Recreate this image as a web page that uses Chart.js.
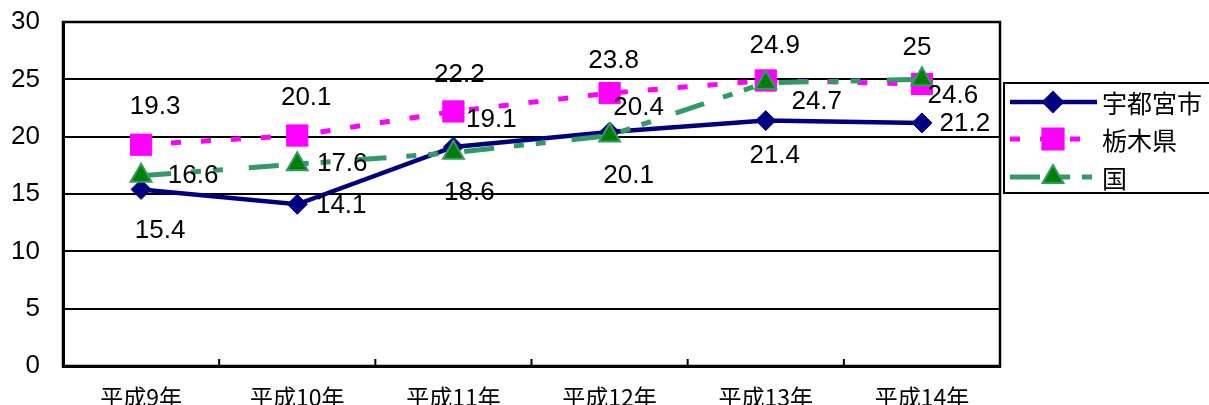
<!DOCTYPE html>
<html>
<head>
<meta charset="utf-8">
<script src="https://cdn.jsdelivr.net/npm/chart.js@4/dist/chart.umd.min.js"></script>
<style>
  html, body { margin: 0; padding: 0; background: #fff; }
  #wrap { width: 1209px; height: 405px; }
</style>
</head>
<body>
<div id="wrap"><canvas id="myChart"></canvas></div>
<script>
  'use strict';

  // data
  var years = ['平成9年', '平成10年', '平成11年', '平成12年', '平成13年', '平成14年'];
  var utsunomiya = [15.4, 14.1, 19.1, 20.4, 21.4, 21.2];
  var tochigi = [19.3, 20.1, 22.2, 23.8, 24.9, 24.6];
  var kuni = [16.6, 17.6, 18.6, 20.1, 24.7, 25];
  var yTicks = [0, 5, 10, 15, 20, 25, 30];

  // where each value label sits relative to its point (px)
  var utsunomiyaLabelPos = [[19, 41], [44, 2], [38, -27], [29, -24], [9, 35], [43, 1]];
  var tochigiLabelPos = [[14, -38], [9, -38], [6, -37], [4, -32], [9, -35], [31, 12]];
  var kuniLabelPos = [[52, 0], [45, 0], [16, 40], [19, 40], [51, 19], [-5, -32]];

  var NUM_FONT = "'Liberation Sans', Arial, 'Noto Sans CJK JP', sans-serif";
  var JP_FONT = "'Noto Sans CJK JP', 'Liberation Sans', sans-serif";

  var greenDash = [30, 20, 10, 12, 10, 26];
  var pinkDash = [10, 20];

  // value labels next to the points
  var valueLabels = {
    id: 'valueLabels',
    afterDatasetsDraw: function (chart) {
      var ctx = chart.ctx;
      ctx.save();
      ctx.font = '26px ' + NUM_FONT;
      ctx.fillStyle = '#000';
      ctx.textAlign = 'center';
      ctx.textBaseline = 'middle';
      chart.data.datasets.forEach(function (ds, di) {
        var meta = chart.getDatasetMeta(di);
        meta.data.forEach(function (pt, i) {
          var off = ds.labelPos[i];
          ctx.fillText(String(ds.data[i]), pt.x + off[0], pt.y + off[1]);
        });
      });
      ctx.restore();
    }
  };

  // frame round the plot and small inward ticks between categories
  var frame = {
    id: 'frame',
    afterDraw: function (chart) {
      var ctx = chart.ctx;
      var a = chart.chartArea;
      var x = chart.scales.x;
      ctx.save();
      ctx.strokeStyle = '#000';
      ctx.lineWidth = 2.5;
      ctx.strokeRect(a.left, a.top, a.right - a.left, a.bottom - a.top);
      ctx.lineWidth = 2;
      for (var i = 0; i < years.length - 1; i++) {
        var px = (x.getPixelForValue(i) + x.getPixelForValue(i + 1)) / 2;
        ctx.beginPath();
        ctx.moveTo(px, a.bottom);
        ctx.lineTo(px, a.bottom - 7);
        ctx.stroke();
      }
      ctx.restore();
    }
  };

  // legend box on the right
  var boxLegend = {
    id: 'boxLegend',
    afterDraw: function (chart) {
      var ctx = chart.ctx;
      ctx.save();
      ctx.strokeStyle = '#000';
      ctx.lineWidth = 2;
      ctx.strokeRect(1004, 83, 220, 110);
      var rows = [102, 139, 177];
      chart.data.datasets.forEach(function (ds, i) {
        var y = rows[i];
        ctx.save();
        ctx.strokeStyle = ds.borderColor;
        ctx.lineWidth = ds.borderWidth;
        ctx.setLineDash(ds.borderDash || []);
        ctx.beginPath();
        ctx.moveTo(1010, y);
        ctx.lineTo(1097, y);
        ctx.stroke();
        ctx.restore();
        ctx.save();
        ctx.fillStyle = ds.pointBackgroundColor;
        ctx.strokeStyle = ds.pointBorderColor;
        Chart.helpers.drawPoint(ctx, {
          pointStyle: ds.pointStyle,
          radius: ds.pointRadius,
          rotation: 0,
          borderWidth: ds.pointBorderWidth
        }, 1053, y);
        ctx.restore();
        ctx.fillStyle = '#000';
        ctx.font = '25px ' + JP_FONT;
        ctx.textAlign = 'left';
        ctx.textBaseline = 'middle';
        ctx.fillText(ds.label, 1102, y + 1);
      });
      ctx.restore();
    }
  };

  var ctx = document.getElementById('myChart').getContext('2d');
  var chart = new Chart(ctx, {
    type: 'line',
    data: {
      labels: years,
      datasets: [
        {
          label: '宇都宮市',
          data: utsunomiya,
          labelPos: utsunomiyaLabelPos,
          borderColor: '#000080',
          borderWidth: 4.5,
          pointStyle: 'rectRot',
          pointRadius: 10,
          pointBackgroundColor: '#000080',
          pointBorderColor: '#000080',
          pointBorderWidth: 1,
          tension: 0,
          order: 3
        },
        {
          label: '栃木県',
          data: tochigi,
          labelPos: tochigiLabelPos,
          borderColor: '#ff00ff',
          borderWidth: 5,
          borderDash: pinkDash,
          pointStyle: 'rect',
          pointRadius: 15,
          pointBackgroundColor: '#ff00ff',
          pointBorderColor: '#ff00ff',
          pointBorderWidth: 1,
          tension: 0,
          order: 2
        },
        {
          label: '国',
          data: kuni,
          labelPos: kuniLabelPos,
          borderColor: '#339966',
          borderWidth: 5,
          borderDash: greenDash,
          pointStyle: 'triangle',
          pointRadius: 12,
          pointBackgroundColor: '#008000',
          pointBorderColor: '#339966',
          pointBorderWidth: 2,
          tension: 0,
          order: 1
        }
      ]
    },
    options: {
      responsive: true,
      maintainAspectRatio: false,
      animation: false,
      events: [],
      layout: {
        padding: { top: 22, right: 209, left: 0, bottom: 0 }
      },
      plugins: {
        legend: { display: false },
        tooltip: { enabled: false }
      },
      scales: {
        x: {
          type: 'category',
          offset: true,
          grid: { display: false, drawTicks: false },
          border: { display: true, color: '#000', width: 3 },
          ticks: {
            padding: 17,
            color: '#000',
            maxRotation: 0,
            font: { family: JP_FONT, size: 23 }
          },
          afterFit: function (scale) {
            scale.height = 39;
            scale.paddingLeft = 0;
            scale.paddingRight = 0;
          }
        },
        y: {
          min: 0,
          max: 30,
          afterBuildTicks: function (scale) {
            scale.ticks = yTicks.map(function (v) { return { value: v }; });
          },
          grid: { color: '#000', lineWidth: 2, drawTicks: false },
          border: { display: true, color: '#000', width: 3 },
          ticks: {
            padding: 23,
            color: '#000',
            font: { family: NUM_FONT, size: 26 }
          },
          afterFit: function (scale) {
            scale.width = 63;
            scale.paddingTop = 0;
            scale.paddingBottom = 0;
          }
        }
      }
    },
    plugins: [valueLabels, frame, boxLegend]
  });
</script>
</body>
</html>
